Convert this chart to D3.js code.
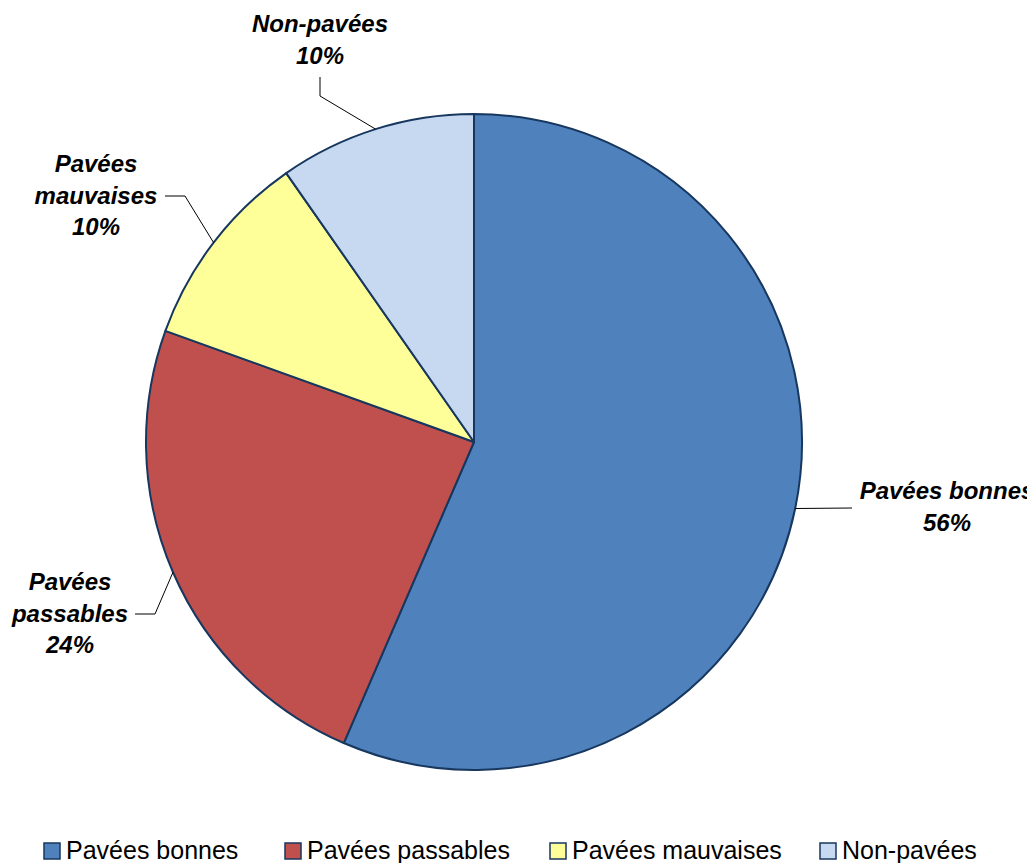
<!DOCTYPE html>
<html>
<head>
<meta charset="utf-8">
<script src="https://cdn.jsdelivr.net/npm/d3@7"></script>
<style>
  body { margin: 0; background: #fff; }
  svg { display: block; }
  .lbl { font-family: "Liberation Sans", Arial, sans-serif; font-size: 24px; font-weight: bold; font-style: italic; fill: #000; }
  .leg { font-family: "Liberation Sans", Arial, sans-serif; font-size: 25px; fill: #000; }
</style>
</head>
<body>
<div id="chart"></div>
<script>
// data
var categories = ["Pavées bonnes", "Pavées passables", "Pavées mauvaises", "Non-pavées"];
var values = [56.5, 24, 9.8, 9.7];
var percentLabels = ["56%", "24%", "10%", "10%"];
var labelLines = [["Pavées bonnes"], ["Pavées", "passables"], ["Pavées", "mauvaises"], ["Non-pavées"]];
var colors = ["#4f81bd", "#c0504d", "#ffff99", "#c6d9f1"];

var width = 1027, height = 863;
var cx = 474, cy = 442, radius = 328;

// where each data label sits (text centre x, first baseline y) and the leader elbow
var labelPos = [
  {x: 947, y: 499, elbow: [852, 508], end: "h"},
  {x: 70, y: 590, elbow: [155, 614], end: [135, 614]},
  {x: 96, y: 172, elbow: [185, 196], end: [165, 196]},
  {x: 320, y: 32, elbow: [320, 96], end: [320, 77]}
];

var data = categories.map(function(c, i) {
  return {name: c, value: values[i], pct: percentLabels[i], lines: labelLines[i], color: colors[i]};
});

const svg = d3.select("#chart")
  .append("svg")
  .attr("width", width)
  .attr("height", height);

var pie = d3.pie().sort(null).value(function(d) { return d.value; });
var arc = d3.arc().innerRadius(0).outerRadius(radius);
var arcs = pie(data);

var g = svg.append("g").attr("transform", "translate(" + cx + "," + cy + ")");

g.selectAll("path")
  .data(arcs)
  .enter()
  .append("path")
  .attr("d", arc)
  .attr("fill", function(d) { return d.data.color; })
  .attr("stroke", "#17375e")
  .attr("stroke-width", 2)
  .attr("stroke-linejoin", "round");

// leader lines
arcs.forEach(function(a, i) {
  var mid = (a.startAngle + a.endAngle) / 2;
  var sx = cx + radius * Math.sin(mid);
  var sy = cy - radius * Math.cos(mid);
  var p = labelPos[i];
  var pts = [[sx, sy], p.elbow];
  if (p.end !== "h") pts.push(p.end);
  svg.append("path")
    .attr("d", d3.line()(pts))
    .attr("fill", "none")
    .attr("stroke", "#000")
    .attr("stroke-width", 1);
});

// data labels
arcs.forEach(function(a, i) {
  var p = labelPos[i];
  var t = svg.append("text")
    .attr("class", "lbl")
    .attr("text-anchor", "middle");
  var lines = a.data.lines.concat([a.data.pct]);
  lines.forEach(function(l, j) {
    t.append("tspan")
      .attr("x", p.x)
      .attr("y", p.y + j * 31.5)
      .text(l);
  });
});

// legend
var legendX = [44, 285, 550, 820];
var leg = svg.append("g");
data.forEach(function(d, i) {
  leg.append("rect")
    .attr("x", legendX[i])
    .attr("y", 843)
    .attr("width", 16)
    .attr("height", 16)
    .attr("fill", d.color)
    .attr("stroke", "#17375e")
    .attr("stroke-width", 1.5);
  leg.append("text")
    .attr("class", "leg")
    .attr("x", legendX[i] + 22)
    .attr("y", 859)
    .text(d.name);
});
</script>
</body>
</html>
